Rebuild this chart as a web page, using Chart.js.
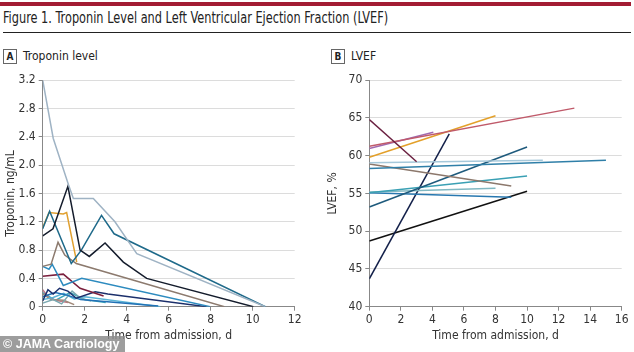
<!DOCTYPE html>
<html>
<head>
<meta charset="utf-8">
<script src="https://cdn.jsdelivr.net/npm/chart.js@4"></script>
<style>
  body { margin: 0; background: #fff; width: 634px; height: 352px; overflow: hidden; position: relative;
         font-family: "Liberation Sans Narrow", "DejaVu Sans Condensed", sans-serif; color: #222; }
  #redBar { position: absolute; left: 0; top: 2px; width: 631px; height: 4px; background: #a31c33; }
  #title { position: absolute; left: 3px; top: 9px; font-size: 15px; white-space: nowrap;
           transform: scaleX(0.84); transform-origin: left top; }
  #rule { position: absolute; left: 3px; top: 32px; width: 628px; height: 1px; background: #222; }
  .panel { position: absolute; top: 49px; font-size: 12px; white-space: nowrap; }
  .panel span.box { display: inline-block; width: 12px; height: 13px; border: 1px solid #666; text-align: center;
                    font-size: 10px; line-height: 13px; margin-right: 6px; font-weight: bold; }
  #wrapA { position: absolute; left: 0; top: 70px; width: 310px; height: 282px; }
  #wrapB { position: absolute; left: 310px; top: 70px; width: 324px; height: 282px; }
  #mark { position: absolute; left: 0; top: 336px; width: 125px; height: 16px; background: rgba(140,140,140,0.85);
          color: #fff; font: bold 12.5px "Liberation Sans", Arial, sans-serif; line-height: 16px; padding-left: 3px;
          box-sizing: border-box; white-space: nowrap; overflow: hidden; }
</style>
</head>
<body>
<div id="redBar"></div>
<div id="title">Figure 1. Troponin Level and Left Ventricular Ejection Fraction (LVEF)</div>
<div id="rule"></div>
<div class="panel" style="left:3px"><span class="box">A</span>Troponin level</div>
<div class="panel" style="left:331px"><span class="box">B</span>LVEF</div>
<div id="wrapA"><canvas id="chartA" width="310" height="282"></canvas></div>
<div id="wrapB"><canvas id="chartB" width="324" height="282"></canvas></div>
<div id="mark">© JAMA Cardiology</div>

<script>
// Panel A: troponin (ng/mL) per patient, [day, value]
const tropTicksX = [0, 2, 4, 6, 8, 10, 12];
const tropTicksY = [0, 0.4, 0.8, 1.2, 1.6, 2.0, 2.4, 2.8, 3.2];

const trop1 = [[0, 3.2], [0.5, 2.38], [1.22, 1.73], [1.46, 1.53], [2.41, 1.53], [3.44, 1.2], [4.48, 0.75], [10.6, 0]];
const trop2 = [[0, 1.0], [0.49, 1.1], [1.2, 1.7], [1.78, 0.8], [2.22, 0.71], [2.97, 0.9], [3.84, 0.63], [4.95, 0.4], [10.03, 0]];
const trop3 = [[0, 1.1], [0.33, 1.35], [1.36, 0.61], [1.84, 0.8], [2.8, 1.29], [3.4, 1.03], [10.6, 0]];
const trop4 = [[0, 1.12], [0.3, 1.33], [0.98, 1.31], [1.14, 1.33], [1.62, 0.63]];
const trop5 = [[0, 0.57], [0.4, 0.6], [0.73, 0.91], [1.05, 0.73], [1.6, 0.61], [8.65, 0]];
const trop6 = [[0, 0.57], [0.3, 0.53], [0.45, 0.6], [0.98, 0.3], [1.86, 0.4], [7.97, 0]];
const trop7 = [[0, 0.43], [0.98, 0.46], [1.78, 0.26], [2.9, 0.15]];
const trop8 = [[0, 0.08], [0.25, 0.24], [0.5, 0.18], [0.8, 0.26], [1.2, 0.22], [1.6, 0.12], [2.5, 0.21], [3.1, 0.18], [7.8, 0]];
const trop9 = [[0, 0.14], [0.6, 0.2], [1.2, 0.16], [1.8, 0.1], [5.5, 0.01]];
const trop10 = [[0, 0.1], [0.5, 0.13], [1, 0.19], [1.5, 0.11], [2, 0.14], [5.6, 0]];
const trop11 = [[0, 0.05], [0.5, 0.1], [0.9, 0.04], [1.4, 0.22], [1.8, 0.12], [2.3, 0.08]];
const trop12 = [[0, 0.18], [0.4, 0.1], [1.0, 0.09], [1.5, 0.03]];
const trop13 = [[0, 0.24], [0.3, 0.12], [0.8, 0.08], [1.2, 0.06]];
const trop14 = [[0, 0.2], [0.6, 0.09], [1.3, 0.2], [2, 0.1], [3, 0.06]];

const tropSeries = [trop1, trop2, trop3, trop4, trop5, trop6, trop7, trop8, trop9, trop10, trop11, trop12, trop13, trop14];
const tropColors = ['#9fb3c4', '#141c2c', '#1f6a8a', '#e0a030', '#8c7a6e', '#2d8bbf', '#7a1f3d',
                    '#1b2f6b', '#2171b5', '#5ab4d6', '#7aa8b0', '#a08878', '#c07a8a', '#3aa6b9'];

// Panel B: LVEF (%) per patient, [day, value]
const lvefTicksX = [0, 2, 4, 6, 8, 10, 12, 14, 16];
const lvefTicksY = [40, 45, 50, 55, 60, 65, 70];

const lvef1 = [[0, 64.8], [3, 59.2]];
const lvef2 = [[0, 61.25], [13, 66.3]];
const lvef3 = [[0, 60.95], [4.06, 63.1]];
const lvef4 = [[0, 59.8], [8, 65.3]];
const lvef5 = [[0, 59.05], [11, 59.4]];
const lvef6 = [[0, 58.3], [15, 59.4]];
const lvef7 = [[0, 58.9], [9, 56.0]];
const lvef8 = [[0, 53.2], [10, 61.15]];
const lvef9 = [[0, 55.1], [10, 57.3]];
const lvef10 = [[0, 55.2], [8, 55.7]];
const lvef11 = [[0, 55.1], [9, 54.5]];
const lvef12 = [[0, 43.7], [5.07, 62.9]];
const lvef13 = [[0, 48.7], [10, 55.3]];

const lvefSeries = [lvef1, lvef2, lvef3, lvef4, lvef5, lvef6, lvef7, lvef8, lvef9, lvef10, lvef11, lvef12, lvef13];
const lvefColors = ['#6a2040', '#c05a6a', '#a06ab0', '#e3a02a', '#a6c8da', '#2f7fa8', '#8c786c',
                    '#1e5a7c', '#3aa0b4', '#80b8c2', '#2878b0', '#13204a', '#111111'];

Chart.defaults.font.family = '"Liberation Sans Narrow", "DejaVu Sans Condensed", sans-serif';
Chart.defaults.font.size = 12;
Chart.defaults.color = '#333';

function makeSets(series, colors) {
    return series.map((s, i) => ({
        data: s.map(p => ({ x: p[0], y: p[1] })),
        borderColor: colors[i],
        borderWidth: 1.5,
        pointRadius: 0,
        tension: 0,
        fill: false
    }));
}

function makeChart(id, series, colors, ticksX, ticksY, yTitle, yFmt, pad, yWidth, xHeight, yTitlePad) {
    return new Chart(document.getElementById(id), {
        type: 'line',
        data: { datasets: makeSets(series, colors) },
        options: {
            responsive: false,
            animation: false,
            layout: { padding: pad },
            plugins: { legend: { display: false }, tooltip: { enabled: false } },
            scales: {
                x: {
                    type: 'linear',
                    min: ticksX[0],
                    max: ticksX[ticksX.length - 1],
                    afterBuildTicks: ax => { ax.ticks = ticksX.map(v => ({ value: v })); },
                    afterFit: ax => { ax.height = xHeight; },
                    grid: { drawOnChartArea: false, tickLength: 4, tickColor: '#888' },
                    border: { color: '#888' },
                    ticks: { padding: 2, maxRotation: 0, font: { size: 12 } },
                    title: { display: true, text: 'Time from admission, d', font: { size: 12 }, padding: { top: 0, bottom: 9 } }
                },
                y: {
                    type: 'linear',
                    min: ticksY[0],
                    max: ticksY[ticksY.length - 1],
                    afterBuildTicks: ax => { ax.ticks = ticksY.map(v => ({ value: v })); },
                    afterFit: ax => { ax.width = yWidth; },
                    grid: { color: '#dcdcdc', tickLength: 4, tickColor: '#888' },
                    border: { color: '#888' },
                    ticks: { padding: 3, callback: yFmt, font: { size: 12 } },
                    title: { display: true, text: yTitle, font: { size: 12 }, padding: yTitlePad }
                }
            }
        }
    });
}

makeChart('chartA', tropSeries, tropColors, tropTicksX, tropTicksY, 'Troponin, ng/mL',
    v => v === 0 ? '0' : v.toFixed(1), { top: 9, right: 15.3, left: 0, bottom: 0 }, 42.7, 45.3, { top: 4, bottom: 0 });

makeChart('chartB', lvefSeries, lvefColors, lvefTicksX, lvefTicksY, 'LVEF, %',
    v => String(v), { top: 8.3, right: 12.3, left: 0, bottom: 0 }, 59.3, 45.3, { top: 16, bottom: 0 });
</script>
</body>
</html>
